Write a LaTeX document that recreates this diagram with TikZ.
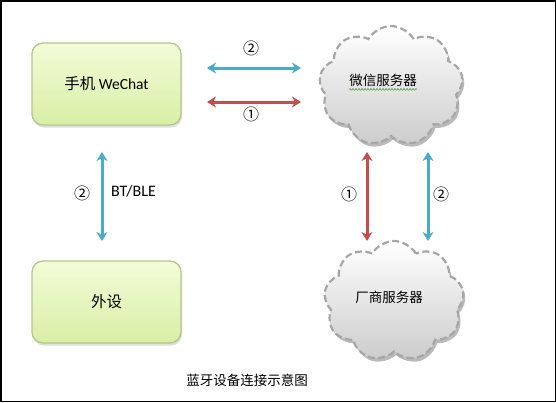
\documentclass[tikz,border=0pt]{standalone}
\usepackage{fontspec}
\setmainfont{Carlito}
\newfontfamily\cjk{Noto Sans CJK SC}
\usetikzlibrary{shapes.symbols,shadows,arrows.meta,decorations.pathmorphing}
\definecolor{arrblue}{HTML}{4BACC6}
\definecolor{arrred}{HTML}{C0504D}
\definecolor{boxtop}{HTML}{F3FCD8}
\definecolor{boxbot}{HTML}{D8EFA6}
\definecolor{boxline}{HTML}{B4C78C}
\definecolor{cloudline}{HTML}{A6A6A6}
\definecolor{squig}{HTML}{4F9A3A}
\begin{document}
\begin{tikzpicture}[x=1pt,y=-1pt,
  greenbox/.style={rectangle, rounded corners=11pt, minimum width=149pt, minimum height=82pt,
    draw=boxline, line width=1.3pt, top color=boxtop, bottom color=boxbot,
    drop shadow={shadow xshift=1pt, shadow yshift=-2.5pt, opacity=0.25},
    font=\fontsize{15.5}{18}\selectfont},
  cloudshape/.style={cloud, cloud puffs=9, cloud puff arc=120, aspect=1.2,
    inner sep=0pt, draw=cloudline, line width=2.2pt, dash pattern=on 7pt off 3.5pt,
    top color=white, bottom color=black!20,
    drop shadow={shadow xshift=2pt, shadow yshift=-3.5pt, fill=black!45, opacity=0.6}},
  bluearrow/.style={draw=arrblue, line width=3pt, {Stealth[length=9pt,width=11pt]}-{Stealth[length=9pt,width=11pt]}},
  redarrow/.style={draw=arrred, line width=3pt, {Stealth[length=9pt,width=11pt]}-{Stealth[length=9pt,width=11pt]}},
  lbl/.style={font=\cjk\fontsize{16}{18}\selectfont, inner sep=0pt},
  cloudtext/.style={font=\cjk\fontsize{13.5}{15}\selectfont, inner sep=0pt}
]
\useasboundingbox (0,0) rectangle (556,402);
\draw[line width=1.5pt] (0.75,0.75) rectangle (555.25,401.25);

% boxes
\node[greenbox] (phone) at (106.5,84) {{\cjk 手机} WeChat};
\node[greenbox] (dev) at (106.5,302) {\cjk 外设};

% clouds
\node[cloudshape, minimum width=144pt, minimum height=120pt] (wxs) at (391,86) {};
\node[cloudshape, minimum width=140pt, minimum height=120pt] (vs) at (394,301) {};
\node[cloudtext] (wxt) at (383,80) {微信服务器};
\draw[squig, line width=0.6pt, decorate, decoration={snake, amplitude=0.8pt, segment length=3pt}]
  ([yshift=-3pt]wxt.south west) -- ([yshift=-3pt]wxt.south east);
\node[cloudtext] (vst) at (389,297) {厂商服务器};

% arrow end points
\coordinate (hb1) at (207,68);  \coordinate (hb2) at (301,68);
\coordinate (hr1) at (207,102); \coordinate (hr2) at (301,102);
\coordinate (vl1) at (102,152); \coordinate (vl2) at (102,241);
\coordinate (vr1) at (367,152); \coordinate (vr2) at (367,241);
\coordinate (vb1) at (428,152); \coordinate (vb2) at (428,241);

\draw[bluearrow] (hb1) -- (hb2);
\draw[redarrow] (hr1) -- (hr2);
\draw[bluearrow] (vl1) -- (vl2);
\draw[redarrow] (vr1) -- (vr2);
\draw[bluearrow] (vb1) -- (vb2);

% labels
\node[lbl] (l1) at (251,48) {②};
\node[lbl] (l2) at (251,114) {①};
\node[lbl] (l3) at (82,193) {②};
\node[font=\fontsize{16}{18}\selectfont, inner sep=0pt, anchor=west] (bt) at (111,191) {BT/BLE};
\node[lbl] (l4) at (349,194) {①};
\node[lbl] (l5) at (441,194) {②};

\node[cloudtext] (cap) at (247,380) {蓝牙设备连接示意图};
\end{tikzpicture}
\end{document}
